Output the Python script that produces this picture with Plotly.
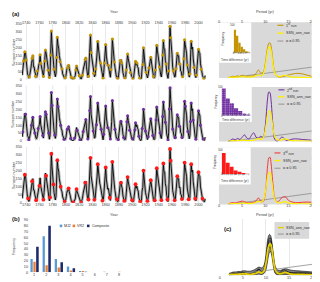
import plotly.graph_objects as go

W, H = 320, 282
FONT = "Liberation Sans"
TXT = "#404040"

# ---------------- data ----------------
YEAR0 = 1734
ssn = [27, 57, 117, 135, 175, 168,
       122, 67, 33, 27, 8, 18, 37, 67, 100, 134,
       150, 80, 80, 51, 20, 16, 17, 54, 79, 90,
       105, 155, 102, 75, 61, 35, 19, 63, 116, 185,
       168, 136, 111, 58, 51, 12, 33, 154, 305, 225,
       141, 114, 64, 38, 17, 40, 138, 265, 218, 197,
       150, 111, 100, 78, 68, 36, 27, 11, 7, 11,
       24, 57, 75, 72, 90, 70, 47, 17, 14, 4,
       0, 2, 8, 20, 23, 59, 85, 68, 53, 39,
       24, 9, 6, 2, 11, 28, 60, 83, 108, 125,
       135, 81, 44, 13, 20, 86, 193, 280, 169, 143,
       106, 63, 40, 18, 25, 66, 103, 166, 240, 183,
       126, 122, 103, 74, 39, 13, 8, 43, 104, 178,
       220, 147, 112, 84, 89, 58, 31, 14, 63, 124,
       255, 185, 169, 110, 75, 28, 19, 21, 6, 10,
       54, 91, 120, 125, 106, 86, 42, 22, 11, 10,
       12, 60, 122, 160, 130, 107, 69, 44, 44, 20,
       16, 5, 9, 41, 70, 115, 90, 103, 81, 73,
       31, 10, 6, 2, 16, 79, 95, 200, 135, 106,
       63, 44, 24, 10, 28, 74, 107, 115, 140, 108,
       59, 35, 19, 9, 15, 60, 133, 215, 183, 148,
       113, 79, 51, 27, 16, 55, 154, 245, 193, 191,
       119, 98, 45, 20, 7, 54, 201, 335, 262, 225,
       159, 76, 53, 40, 15, 22, 67, 133, 165, 149,
       148, 94, 98, 54, 49, 23, 18, 39, 131, 250,
       219, 199, 162, 91, 61, 21, 15, 34, 123, 240,
       192, 203, 133, 76, 45, 25, 12, 29, 88, 136,
       190, 170, 164, 99, 65, 46, 25, 13, 4, 5,
       25]
years = list(range(YEAR0, YEAR0 + len(ssn)))
year_ticks = [1740, 1760, 1780, 1800, 1820, 1840, 1860, 1880, 1900, 1920, 1940, 1960, 1980, 2000]

gold_years = [1736,1738,1740,1745,1749,1750,1754,1757,1761,1762,1766,1768,1769,
              1773,1775,1777,1778,1782,1786,1787,1791,1794,1799,1803,1804,1808,
              1812,1815,1816,1820,1825,1829,1830,1834,1837,1838,1842,1845,1848,
              1852,1856,1858,1860,1864,1868,1870,1873,1878,1882,1884,1889,
              1891,1893,1897,1901,1905,1907,1911,1916,1917,1921,1925,1928,
              1932,1935,1937,1941,1946,1947,1951,1955,1957,1958,1962,1966,1968,
              1972,1976,1978,1979,1983,1987,1989,1993,1997,2000,2004,2008]
purple_years = [1735,1739,1744,1748,1750,1753,1758,1761,1765,1769,1770,
                1774,1778,1779,1783,1787,1788,1792,1797,1802,1804,1807,1813,
                1817,1821,1826,1830,1833,1836,1837,1841,1846,1848,1853,
                1857,1860,1863,1867,1870,1874,1879,1883,1887,1892,
                1893,1896,1900,1904,1905,1910,1915,1917,1920,1924,1928,
                1931,1936,1937,1942,1946,1947,1950,1954,1956,1957,1961,
                1965,1968,1971,1975,1979,1980,1984,1988,1989,1992,1996,2000,
                2003,2007]
red_years = [1738,1743,1749,1755,1760,1766,1770,1776,1778,1781,
             1787,1792,1798,1804,1811,1816,1823,1829,1834,1837,
             1843,1848,1855,1860,1866,1870,1877,1883,1888,1893,
             1900,1905,1912,1917,1923,1928,1934,1937,1944,1947,
             1953,1957,1958,1964,1968,1975,1979,1985,1989,1995,
             2000,2006]

period = [2, 2.5, 3, 3.5, 4, 4.5, 5, 5.5, 6, 6.5, 7, 7.5, 8, 8.5, 9, 9.5,
          10, 10.25, 10.5, 10.75, 11, 11.25, 11.5, 11.75, 12,
          12.5, 13, 13.5, 14, 14.5, 15, 16, 17, 18, 19, 20]
ssn_ann_raw = [0.3,0.4,0.5,0.4,0.5,0.6,0.8,0.7,0.6,0.5,0.6,0.8,1.2,1.8,1.2,2.0,
               6.5,11.0,15.0,17.0,17.2,15.0,10.5,6.0,3.0,
               1.2,0.8,1.0,1.5,1.4,0.9,0.5,0.4,0.4,0.3,0.3]
run1 = [0.3,0.6,1.0,0.8,1.2,0.9,1.6,1.0,0.8,1.2,1.0,1.5,2.5,4.5,2.8,3.0,
        8.0,13.0,17.0,19.2,19.5,17.5,12.5,7.0,3.5,
        1.0,0.5,0.6,0.9,1.3,1.7,2.3,2.6,2.3,1.6,1.0]
run2 = [0.3,0.8,1.5,1.0,1.8,1.2,2.5,3.8,2.0,1.5,3.5,5.0,2.5,2.0,3.0,2.5,
        9.0,17.0,24.5,28.0,27.5,23.0,14.0,6.0,1.5,
        0.2,1.0,2.5,2.0,0.6,0.8,1.5,1.5,1.2,1.0,0.8]
run3 = [0.3,0.8,1.0,0.8,1.2,1.5,1.8,1.5,1.0,0.8,1.0,1.2,2.0,3.5,2.0,1.5,
        6.0,13.0,21.0,25.0,25.5,22.0,15.0,8.0,3.5,
        1.5,2.0,3.5,4.2,3.8,2.2,1.2,1.0,1.2,1.3,1.2]
ens_max = [1.0,1.4,1.8,1.8,2.0,2.0,2.4,2.4,2.2,2.2,2.4,3.0,3.8,4.5,4.0,5.0,
           11,17,21,22.5,22,19,14,9,5, 3,2.6,3,3.5,3.5,3, 2.6,2.4,2.2,2.0,1.8]
ens_min = [0,0,0.1,0.1,0.1,0.2,0.2,0.2,0.2,0.1,0.1,0.2,0.4,0.6,0.3,0.8,
           3,6,10,12.5,13,11,7,3,1, 0.2,0.1,0.2,0.3,0.3,0.2, 0.1,0.1,0.1,0.1,0.1]
ens_a = [0.5,0.8,1.2,0.9,1.3,1.1,1.5,1.2,1.0,1.0,1.1,1.8,2.6,3.2,2.2,3.0,
         8.5,14,18.5,20.5,20.5,17,12,7,3.5, 1.5,1.2,1.6,2.2,2.0,1.6, 1.5,1.6,1.4,1.2,1.0]
ens_b = [0.2,0.4,0.6,0.5,0.7,0.6,0.9,0.8,0.6,0.6,0.7,1.0,1.5,2.2,1.2,2.0,
         6,10.5,14,15.5,15.5,13,9,5,2.2, 0.8,0.6,0.9,1.3,1.2,0.8, 0.7,0.7,0.6,0.5,0.4]
ens_c = [0.4,0.6,0.9,0.7,1.0,1.3,1.6,1.1,0.8,0.7,0.9,1.3,2.0,3.6,1.8,2.5,
         7.5,12.5,17,19,19,16,11,6,2.8, 1.0,1.4,2.5,2.9,2.4,1.5, 1.0,0.9,1.0,1.1,1.0]
alpha_period = [2, 5, 10, 15, 20]
alpha_power = [0.1, 0.9, 2.6, 4.3, 6.0]

hist_bins = [1, 2, 3, 4, 5, 6, 7]
hist1 = [82, 61, 36, 21, 12, 5, 3]
hist2 = [94, 60, 43, 26, 16, 7, 4]
hist3 = [87, 47, 31, 16, 10, 5, 2]

tdiff = [1, 2, 3, 4, 5, 6, 7, 8]
mj2 = [23, 62, 23, 10, 2, 0, 1, 0]
vr2 = [18, 12, 8, 3, 2, 0, 0, 1]
composite = [44, 80, 17, 7, 1, 0, 0, 0]

GOLD, PURPLE, RED = "#C39300", "#7030A0", "#F23A3A"
YEL = "#FFF000"
GRAYL = "#8C8C8C"

# ---------------- helpers ----------------
def fx(p): return p / W
def fy(p): return 1 - p / H

fig = go.Figure()
layout = {}
shapes = []
anns = []

def ax(i): return "" if i == 1 else str(i)

def add_axes(i, xpx, ypx, xkw, ykw):
    xk, yk = "xaxis" + ax(i), "yaxis" + ax(i)
    base = dict(showline=False, zeroline=False, ticks="", showgrid=False,
                tickfont=dict(size=3.8, color=TXT, family=FONT), fixedrange=True)
    xd = dict(base); xd.update(domain=[fx(xpx[0]), fx(xpx[1])], anchor="y" + ax(i)); xd.update(xkw)
    yd = dict(base); yd.update(domain=[fy(ypx[1]), fy(ypx[0])], anchor="x" + ax(i)); yd.update(ykw)
    layout[xk] = xd
    layout[yk] = yd

def ann(x, y, text, size=3.8, angle=0, xanchor="center", bold=False, color=TXT):
    anns.append(dict(x=fx(x), y=fy(y), xref="paper", yref="paper", text=("<b>%s</b>" % text) if bold else text,
                     showarrow=False, textangle=angle, xanchor=xanchor, yanchor="middle", borderpad=0,
                     font=dict(size=size, color=color, family=FONT)))

def rect(x0, y0, x1, y1, color, layer="below"):
    shapes.append(dict(type="rect", xref="paper", yref="paper", x0=fx(x0), x1=fx(x1), y0=fy(y1), y1=fy(y0),
                       fillcolor=color, line=dict(width=0), layer=layer))

def leg_line(x, y, color, width, text, size=3.7):
    shapes.append(dict(type="line", xref="paper", yref="paper", x0=fx(x), x1=fx(x + 6), y0=fy(y), y1=fy(y),
                       line=dict(color=color, width=width), layer="above"))
    ann(x + 7.5, y, text, size=size, xanchor="left", color="#303030")

# ---------------- (a) time series ----------------
ts_y = [(14, 70.5), (76.5, 133), (138.5, 195.5)]
marks = [(gold_years, GOLD, 3.0), (purple_years, PURPLE, 3.0), (red_years, "#FF1A1A", 3.8)]
lookup = dict(zip(years, ssn))
for k in range(3):
    i = k + 1
    xr, yr = "x" + ax(i), "y" + ax(i)
    fig.add_trace(go.Scatter(x=years, y=ssn, mode="lines", line=dict(color="#B8B8B8", width=3.0),
                             xaxis=xr, yaxis=yr, showlegend=False, hoverinfo="skip"))
    fig.add_trace(go.Scatter(x=years, y=ssn, mode="lines", line=dict(color="#000000", width=0.9),
                             xaxis=xr, yaxis=yr, showlegend=False))
    my, mc, ms = marks[k]
    fig.add_trace(go.Scatter(x=my, y=[lookup[v] for v in my], mode="markers",
                             marker=dict(color=mc, size=ms, line=dict(width=0)),
                             xaxis=xr, yaxis=yr, showlegend=False))
    if k == 1:
        xkw = dict(range=[1733.5, 2011.5], tickvals=[], showticklabels=False)
        for t in year_ticks:
            shapes.append(dict(type="line", xref="x2", yref="y2 domain", x0=t, x1=t, y0=0, y1=1,
                               line=dict(color="#DADADA", width=0.6), layer="below"))
    else:
        xkw = dict(range=[1733.5, 2011.5], tickvals=year_ticks, showgrid=True,
                   gridcolor="#DADADA", gridwidth=0.6, ticklabelstandoff=-2,
                   side="top" if k == 0 else "bottom")
    ykw = dict(range=[0, 350], tickvals=list(range(0, 351, 50)), ticklabelstandoff=-1)
    add_axes(i, (13, 199), ts_y[k], xkw, ykw)
    ann(4.5, (ts_y[k][0] + ts_y[k][1]) / 2, "Sunspot number", size=3.7, angle=-90)

ann(2, 4, "(a)", size=6, xanchor="left", bold=True, color="#202020")
ann(106, 2.3, "Year", size=3.8)
ann(106, 207.5, "Year", size=3.8)

# ---------------- right spectra panels ----------------
r_y = [(12.5, 69), (78, 133.5), (139.2, 197.3)]
runs = [(run1, GOLD, "1<sup>st</sup> run"), (run2, PURPLE, "2<sup>nd</sup> run"), (run3, RED, "3<sup>rd</sup> run")]
for k in range(3):
    i = k + 4
    xr, yr = "x" + ax(i), "y" + ax(i)
    rect(212, r_y[k][0], 305.5, r_y[k][1], "#D9D9D9")
    fig.add_trace(go.Scatter(x=alpha_period, y=alpha_power, mode="lines", line=dict(color=GRAYL, width=0.8),
                             xaxis=xr, yaxis=yr, showlegend=False))
    fig.add_trace(go.Scatter(x=period, y=runs[k][0], mode="lines", line=dict(color=runs[k][1], width=1.0, shape="spline"),
                             xaxis=xr, yaxis=yr, showlegend=False))
    fig.add_trace(go.Scatter(x=period, y=ssn_ann_raw, mode="lines", line=dict(color=YEL, width=1.2, shape="spline"),
                             xaxis=xr, yaxis=yr, showlegend=False))
    if k == 1:
        xkw = dict(range=[0, 20], tickvals=[], showticklabels=False)
    else:
        xkw = dict(range=[0, 20], tickvals=[0, 5, 10, 15, 20], ticklabelstandoff=-2,
                   side="top" if k == 0 else "bottom")
    ykw = dict(range=[0, 30.8], tickvals=[0, 5, 10, 15, 20, 25, 30], side="right", ticklabelstandoff=-1)
    add_axes(i, (212, 305.5), r_y[k], xkw, ykw)
    ann(315.3, (r_y[k][0] + r_y[k][1]) / 2 + 1, "Power (yr<sup>2</sup>)", size=3.4, angle=-90)

ann(258.5, 2.3, "Period (yr)", size=3.8)
ann(258.5, 207.5, "Period (yr)", size=3.8)

# inset white boxes
rect(212.2, 12.6, 244.5, 53.5, "#FFFFFF")
rect(212.2, 78.1, 245, 113.5, "#FFFFFF")
rect(212.2, 139.3, 244, 177, "#FFFFFF")

# legends of right panels
for (x0, ys), (_, col, lab) in zip([(271, (15.5, 23.5, 31.5)), (272, (81, 88, 95.5)), (268, (145, 152.7, 160.5))], runs):
    leg_line(x0, ys[0], col, 1.1, lab)
    leg_line(x0, ys[1], YEL, 1.4, "SSN_ann_raw")
    leg_line(x0, ys[2], GRAYL, 0.9, "α = 0.95")

# ---------------- insets ----------------
inset_x = [(226.8, 243.1), (214.6, 243.8), (214.7, 242.7)]
inset_y = [(15, 43.3), (78, 107.2), (141.7, 166.7)]
hists = [(hist1, GOLD, None), (hist2, PURPLE, "."), (hist3, "#FF1A1A", None)]
for k in range(3):
    i = k + 7
    xr, yr = "x" + ax(i), "y" + ax(i)
    mk = dict(color=hists[k][1], line=dict(width=0))
    if hists[k][2]:
        mk["pattern"] = dict(shape=".", fgcolor="#E8D8F5", size=2.2, solidity=0.25)
    fig.add_trace(go.Bar(x=hist_bins, y=hists[k][0], width=1.0, marker=mk,
                         xaxis=xr, yaxis=yr, showlegend=False))
    xkw = dict(range=[0.5, 7.5], tickvals=hist_bins, ticklabelstandoff=-3,
               tickfont=dict(size=2.8, color=TXT, family=FONT))
    ykw = dict(range=[0, 100], tickvals=[0, 100], ticklabelstandoff=-2,
               tickfont=dict(size=2.8, color=TXT, family=FONT))
    add_axes(i, inset_x[k], inset_y[k], xkw, ykw)
ann(216, 29, "Frequency", size=2.9, angle=-90)
ann(228, 51, "Time difference (yr)", size=3.2)
ann(208.8, 93, "Frequency", size=2.9, angle=-90)
ann(229, 111.5, "Time difference (yr)", size=3.2)
ann(207.8, 154, "Frequency", size=2.9, angle=-90)
ann(227.5, 173.8, "Time difference (yr)", size=3.2)

# ---------------- (b) ----------------
for vals, col, off, wd in [(mj2, "#5B9BD5", -0.30, 0.19), (vr2, "#ED7D31", -0.06, 0.19), (composite, "#1A2A6C", 0.17, 0.21)]:
    fig.add_trace(go.Bar(x=tdiff, y=vals, width=wd, offset=off, marker=dict(color=col, line=dict(width=0)),
                         xaxis="x10", yaxis="y10", showlegend=False))
add_axes(10, (19.2, 117.2), (213, 266),
         dict(range=[0.5, 8.5], tickvals=tdiff, ticklabelstandoff=-1),
         dict(range=[0, 90], tickvals=list(range(0, 91, 10)), ticklabelstandoff=-1))
ann(2, 212, "(b)", size=6, xanchor="left", bold=True, color="#202020")
ann(4.5, 240, "Frequency", size=3.6, angle=-90)
ann(68, 278.8, "Time difference (yr)", size=3.6, bold=True)
for sx, col, lab in [(52.5, "#5B9BD5", "MJ2"), (65.5, "#ED7D31", "VR2"), (80, "#1A2A6C", "Composite")]:
    rect(sx - 1.3, 217.7, sx + 1.3, 220.3, col)
    ann(sx + 2.5, 219, lab, size=3.6, xanchor="left", color="#303030")

# ---------------- (c) ----------------
fig.add_trace(go.Scatter(x=period, y=ens_min, mode="lines", line=dict(color="#000000", width=0.6, shape="spline"),
                         xaxis="x11", yaxis="y11", showlegend=False))
fig.add_trace(go.Scatter(x=period, y=ens_max, mode="lines", line=dict(color="#000000", width=0.6, shape="spline"),
                         fill="tonexty", fillcolor="rgba(80,80,80,0.7)", xaxis="x11", yaxis="y11", showlegend=False))
for e in (ens_a, ens_b, ens_c):
    fig.add_trace(go.Scatter(x=period, y=e, mode="lines", line=dict(color="#000000", width=0.6, shape="spline"),
                             xaxis="x11", yaxis="y11", showlegend=False))
fig.add_trace(go.Scatter(x=alpha_period, y=alpha_power, mode="lines", line=dict(color=GRAYL, width=0.8),
                         xaxis="x11", yaxis="y11", showlegend=False))
fig.add_trace(go.Scatter(x=period, y=ssn_ann_raw, mode="lines", line=dict(color="#E8D000", width=1.8, shape="spline"),
                         xaxis="x11", yaxis="y11", showlegend=False))
add_axes(11, (212.7, 306), (212.5, 269),
         dict(range=[0, 20], tickvals=[0, 5, 10, 15, 20], showgrid=True, gridcolor="#DADADA", gridwidth=0.6,
              ticklabelstandoff=-1),
         dict(range=[0, 30.8], tickvals=[0, 5, 10, 15, 20, 25, 30], side="right", ticklabelstandoff=-1))
ann(221, 222, "(c)", size=6, bold=True, color="#202020")
ann(259, 280, "Period (yr)", size=3.8)
ann(315.3, 242, "Power (yr<sup>2</sup>)", size=3.4, angle=-90)
rect(268, 215, 303, 232, "#D9D9D9", layer="above")
leg_line(271.5, 220.7, "#E8D000", 1.4, "SSN_ann_raw")
leg_line(271.5, 227.3, GRAYL, 0.9, "α = 0.95")

layout.update(width=W, height=H, autosize=False, margin=dict(l=0, r=0, t=0, b=0),
              paper_bgcolor="#FFFFFF", plot_bgcolor="rgba(0,0,0,0)", barmode="overlay",
              font=dict(family=FONT, size=4, color=TXT), shapes=shapes, annotations=anns,
              hovermode=False)
fig.update_layout(**layout)
fig.write_html("out.html", config={"displayModeBar": False, "staticPlot": True})
